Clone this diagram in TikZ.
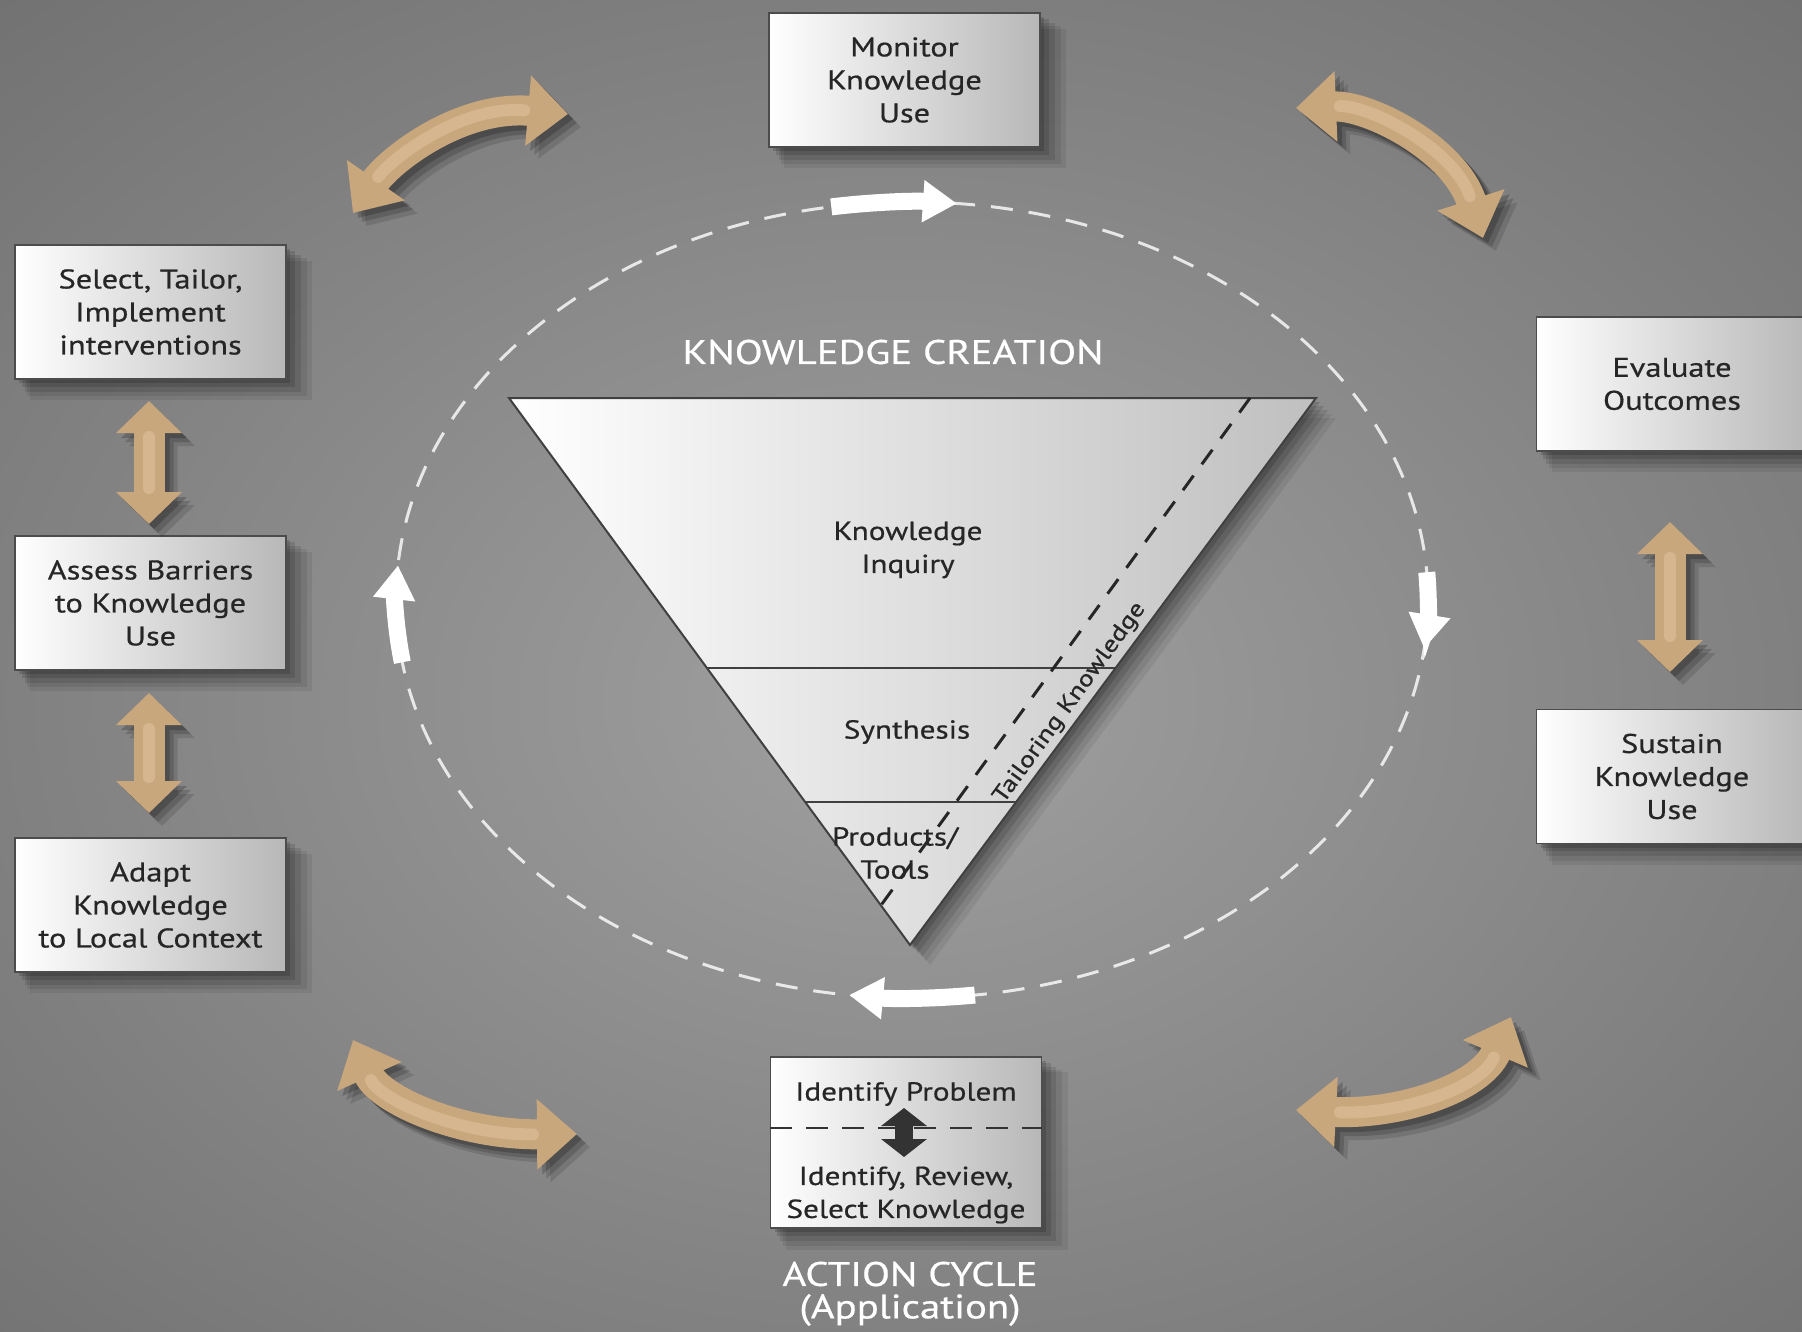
\documentclass[tikz,border=0pt]{standalone}
\usepackage{fontspec}
\setmainfont[FakeStretch=1.2,FakeBold=0.6]{PT Sans}
\usetikzlibrary{arrows.meta,shadows,calc}
\definecolor{tanc}{RGB}{201,167,125}
\definecolor{tanlight}{RGB}{213,182,143}
\definecolor{bga}{RGB}{160,160,160}
\definecolor{bgb}{RGB}{132,132,132}
\definecolor{bgc}{RGB}{102,102,102}
\definecolor{bgd}{RGB}{80,80,80}
\definecolor{boxtext}{RGB}{38,38,38}
\pgfdeclareradialshading{bgshade}{\pgfpoint{0bp}{0bp}}{color(0bp)=(bga); color(18bp)=(bgb); color(38bp)=(bgc); color(58bp)=(bgd); color(72bp)=(bgd)}
\begin{document}
\begin{tikzpicture}[x=1pt,y=-1pt,
  box/.style={draw=black!70, line width=1.5pt, left color=white, right color=black!28,
    minimum width=271pt, minimum height=134pt, inner sep=0pt, align=center,
    font=\fontsize{27}{33}\selectfont, text=boxtext,
    general shadow={fill=black, opacity=.07, shadow xshift=20pt, shadow yshift=-18pt, shadow scale=1.04},
    general shadow={fill=black, opacity=.08, shadow xshift=16pt, shadow yshift=-15pt, shadow scale=1.03},
    general shadow={fill=black, opacity=.1, shadow xshift=12pt, shadow yshift=-11pt, shadow scale=1.02},
    general shadow={fill=black, opacity=.12, shadow xshift=8pt, shadow yshift=-7pt, shadow scale=1.01},
    general shadow={fill=black, opacity=.15, shadow xshift=4pt, shadow yshift=-4pt}},
  tritext/.style={align=center, font=\fontsize{26}{33}\selectfont, text=boxtext},
  biglabel/.style={align=center, font=\fontsize{34}{36}\selectfont, text=white!88},
  tanarrow/.style={draw=tanc, line width=30pt, {Triangle[length=40pt,width=68pt]}-{Triangle[length=40pt,width=68pt]}},
  tanhi/.style={draw=tanlight, line width=12pt, line cap=round, shorten >=44pt, shorten <=44pt},
  vtan/.style={draw=tanc, line width=31pt, {Triangle[length=32pt,width=64pt]}-{Triangle[length=32pt,width=64pt]}},
  wharrow/.style={draw=white, line width=17pt, -{Triangle[length=34pt,width=40pt]}},
  cycledash/.style={draw=white, opacity=.8, line width=3pt, dash pattern=on 22pt off 16pt},
  tailordash/.style={draw=black!85, line width=3pt, dash pattern=on 18pt off 14pt}
]
% background
\useasboundingbox (0,0) rectangle (1802,1331);
\begin{scope}
  \clip (0,0) rectangle (1802,1331);
  \shade[shading=bgshade] (-200,-100) rectangle (2000,1500);
\end{scope}

% dashed cycle
\coordinate (ec) at (912,600);
\draw[cycledash] (ec) ellipse [x radius=516, y radius=398];

% triangle
\coordinate (tl) at (509,398);
\coordinate (tr) at (1316,398);
\coordinate (bt) at (910,945);
\foreach \s/\o in {20/.07,16/.08,12/.1,8/.12,4/.15}{
  \fill[black, opacity=\o] ([xshift=\s pt,yshift=-\s pt]tl) -- ([xshift=\s pt,yshift=-\s pt]tr) -- ([xshift=\s pt,yshift=-\s pt]bt) -- cycle;
}
\shade[left color=white, right color=black!25, draw=black!75, line width=2pt] (tl) -- (tr) -- (bt) -- cycle;
\draw[black!75, line width=2.5pt] ($(tl)!0.4936!(bt)$) coordinate (l1a) -- ($(tr)!0.4936!(bt)$) coordinate (l1b);
\draw[black!75, line width=2.5pt] ($(tl)!0.7386!(bt)$) coordinate (l2a) -- ($(tr)!0.7386!(bt)$) coordinate (l2b);
\coordinate (tk1) at (1250,398);
\coordinate (tk2) at (879,908);
\draw[tailordash] (tk1) -- (tk2);
\node[tritext] (inq) at (908,550) {Knowledge\\Inquiry};
\node[tritext] (syn) at (907,732) {Synthesis};
\node[tritext] (prod) at (895,853) {Products/\\Tools};
\node[tritext, font=\fontsize{23}{26}\selectfont, rotate=54] (tailor) at (1070,703) {Tailoring Knowledge};
\node[biglabel] (kc) at (893,352) {KNOWLEDGE CREATION};

% white cycle arrows
\draw[wharrow] ($(ec)+(261:516 and 398)$) arc[start angle=261, end angle=275, x radius=516, y radius=398];
\draw[wharrow] ($(ec)+(356:516 and 398)$) arc[start angle=356, end angle=367, x radius=516, y radius=398];
\draw[wharrow] ($(ec)+(83:516 and 398)$) arc[start angle=83, end angle=97, x radius=516, y radius=398];
\draw[wharrow] ($(ec)+(171:516 and 398)$) arc[start angle=171, end angle=185, x radius=516, y radius=398];

% boxes
\node[box] (mon) at (904.5,80) {Monitor\\Knowledge\\Use};
\node[box] (sel) at (150.5,312) {Select, Tailor,\\Implement\\interventions};
\node[box] (ass) at (150.5,603) {Assess Barriers\\to Knowledge\\Use};
\node[box] (ada) at (150.5,905) {Adapt\\Knowledge\\to Local Context};
\node[box] (eva) at (1672,384) {Evaluate\\Outcomes};
\node[box] (sus) at (1672,776.5) {Sustain\\Knowledge\\Use};
\node[box, minimum height=171pt] (idn) at (906,1142.5) {};
\node[tritext] (idp) at (906,1094) {Identify Problem};
\node[tritext] (irs) at (906,1195) {Identify, Review,\\Select Knowledge};
\draw[black!80, line width=2.5pt, dash pattern=on 22pt off 14pt] (idn.west |- 0,1128) -- (idn.east |- 0,1128);
\coordinate (ia1) at (904,1108);
\coordinate (ia2) at (904,1157);
\draw[black!80, line width=18pt, {Triangle[length=18pt,width=45pt]}-{Triangle[length=18pt,width=45pt]}] (ia1) -- (ia2);
\node[biglabel] (ac) at (910,1274) {ACTION CYCLE};
\node[biglabel] (app) at (910,1310) {(Application)};

% tan arrows
\coordinate (a1) at (353,213); \coordinate (a2) at (568,114);
\coordinate (b1) at (1296,108); \coordinate (b2) at (1483,238);
\coordinate (c1) at (353,1040); \coordinate (c2) at (577,1134);
\coordinate (d1) at (1296,1110); \coordinate (d2) at (1511,1017);
\coordinate (v1) at (149,401); \coordinate (v2) at (149,524);
\coordinate (v3) at (149,693); \coordinate (v4) at (149,813);
\coordinate (v5) at (1670,522); \coordinate (v6) at (1670,672);
\foreach \s/\o in {13/.12,9/.16,5/.2}{
\begin{scope}[transparency group, opacity=\o, transform canvas={shift={(\s pt,-\s pt)}}]
  \draw[tanarrow, draw=black] (a1) .. controls (390,160) and (460,105) .. (a2);
  \draw[tanarrow, draw=black] (b1) .. controls (1370,105) and (1455,150) .. (b2);
  \draw[tanarrow, draw=black] (c1) .. controls (380,1100) and (460,1135) .. (c2);
  \draw[tanarrow, draw=black] (d1) .. controls (1395,1115) and (1480,1090) .. (d2);
  \draw[vtan, draw=black] (v1) -- (v2);
  \draw[vtan, draw=black] (v3) -- (v4);
  \draw[vtan, draw=black] (v5) -- (v6);
\end{scope}
}
\draw[tanarrow] (a1) .. controls (390,160) and (460,105) .. (a2);
\draw[tanarrow] (b1) .. controls (1370,105) and (1455,150) .. (b2);
\draw[tanarrow] (c1) .. controls (380,1100) and (460,1135) .. (c2);
\draw[tanarrow] (d1) .. controls (1395,1115) and (1480,1090) .. (d2);
\draw[vtan] (v1) -- (v2);
\draw[vtan] (v3) -- (v4);
\draw[vtan] (v5) -- (v6);
\draw[tanhi] (a1) .. controls (390,160) and (460,105) .. (a2);
\draw[tanhi] (b1) .. controls (1370,105) and (1455,150) .. (b2);
\draw[tanhi] (c1) .. controls (380,1100) and (460,1135) .. (c2);
\draw[tanhi] (d1) .. controls (1395,1115) and (1480,1090) .. (d2);
\draw[tanhi, shorten >=36pt, shorten <=36pt] (v1) -- (v2);
\draw[tanhi, shorten >=36pt, shorten <=36pt] (v3) -- (v4);
\draw[tanhi, shorten >=36pt, shorten <=36pt] (v5) -- (v6);
\end{tikzpicture}
\end{document}
